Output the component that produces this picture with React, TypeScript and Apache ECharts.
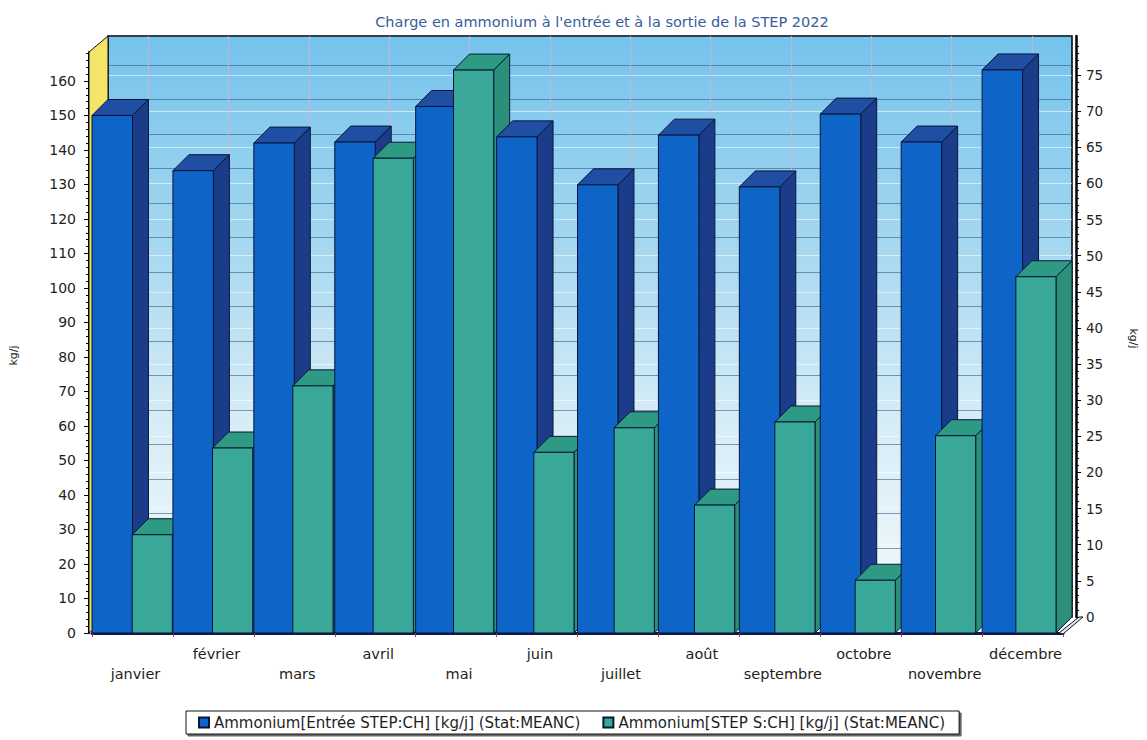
import React, { useEffect, useRef } from "react";
import * as echarts from "echarts";

// Monthly ammonium load, inlet (left axis) and outlet (right axis), kg/j
const months = [
  "janvier", "février", "mars", "avril", "mai", "juin",
  "juillet", "août", "septembre", "octobre", "novembre", "décembre",
];
const entreeValues = [150, 134, 142, 142.3, 152.6, 143.8, 129.9, 144.3, 129.3, 150.4, 142.3, 163.2];
const sortieValues = [13.6, 25.6, 34.2, 65.7, 77.9, 25.0, 28.4, 17.7, 29.2, 7.3, 27.3, 49.3];

const leftTicks = [0, 10, 20, 30, 40, 50, 60, 70, 80, 90, 100, 110, 120, 130, 140, 150, 160];
const rightTicks = [0, 5, 10, 15, 20, 25, 30, 35, 40, 45, 50, 55, 60, 65, 70, 75];
const LEFT_MAX = 168.4;
const RIGHT_MAX = 80.4;

const chartTitle = "Charge en ammonium à l'entrée et à la sortie de la STEP 2022";
const seriesNames = [
  "Ammonium[Entrée STEP:CH] [kg/j] (Stat:MEANC)",
  "Ammonium[STEP S:CH] [kg/j] (Stat:MEANC)",
];
const axisUnit = "kg/j";

// Pseudo-3D box: the front plane carries the left axis, the back wall the right axis
const WIDTH = 1147;
const HEIGHT = 740;
const DEPTH_X = 16;
const DEPTH_Y = 16;
const FRONT = { left: 92, right: 1063, top: 52, bottom: 633 };
const BACK = {
  left: FRONT.left + DEPTH_X,
  right: FRONT.right + DEPTH_X,
  top: FRONT.top - DEPTH_Y,
  bottom: FRONT.bottom - DEPTH_Y,
};

const FONT = "'DejaVu Sans', 'Liberation Sans', sans-serif";
const TEXT = "#1e1e1e";
const EDGE = "#07173a";

const blueFaces = { front: "#0f64c8", top: "#1f4ea3", side: "#1b3c88" };
const greenFaces = { front: "#39a898", top: "#2e9a84", side: "#2b8f79" };

type Faces = { front: string; top: string; side: string };

// One bar as a prism: side face, top face, then front face
function prism(x0: number, x1: number, yTop: number, yBase: number, c: Faces, z2: number) {
  const line = { stroke: EDGE, lineWidth: 1 };
  return [
    {
      type: "polygon",
      z2,
      shape: {
        points: [
          [x1, yBase],
          [x1 + DEPTH_X, yBase - DEPTH_Y],
          [x1 + DEPTH_X, yTop - DEPTH_Y],
          [x1, yTop],
        ],
      },
      style: { fill: c.side, ...line },
    },
    {
      type: "polygon",
      z2,
      shape: {
        points: [
          [x0, yTop],
          [x1, yTop],
          [x1 + DEPTH_X, yTop - DEPTH_Y],
          [x0 + DEPTH_X, yTop - DEPTH_Y],
        ],
      },
      style: { fill: c.top, ...line },
    },
    {
      type: "rect",
      z2,
      shape: { x: x0, y: yTop, width: x1 - x0, height: yBase - yTop },
      style: { fill: c.front, ...line },
    },
  ];
}

function buildOption(): echarts.EChartsOption {
  const entreeData = entreeValues.map((v, i) => [i, v]);
  const sortieData = sortieValues.map((v, i) => [i, v]);

  return {
    animation: false,
    backgroundColor: "#ffffff",
    textStyle: { fontFamily: FONT },
    title: {
      text: chartTitle,
      left: 597,
      top: 9,
      textAlign: "center",
      textStyle: { fontFamily: FONT, fontSize: 14.5, fontWeight: "normal", color: "#3a5c9c" },
    },
    legend: {
      data: seriesNames,
      left: 186,
      top: 711,
      icon: "rect",
      itemWidth: 10,
      itemHeight: 10,
      itemGap: 22,
      padding: [4, 14, 4, 12],
      borderColor: "#111",
      borderWidth: 1,
      backgroundColor: "#fff",
      shadowColor: "rgba(0,0,0,0.6)",
      shadowOffsetX: 2,
      shadowOffsetY: 2,
      shadowBlur: 0,
      textStyle: { fontFamily: FONT, fontSize: 15, color: TEXT },
    },
    grid: [
      {
        left: FRONT.left,
        top: FRONT.top,
        width: FRONT.right - FRONT.left,
        height: FRONT.bottom - FRONT.top,
      },
      {
        left: BACK.left,
        top: BACK.top,
        width: BACK.right - BACK.left,
        height: BACK.bottom - BACK.top,
        show: true,
        borderColor: "#000",
        borderWidth: 1.5,
        backgroundColor: new echarts.graphic.LinearGradient(0, 0, 0, 1, [
          { offset: 0, color: "#74c3ec" },
          { offset: 0.35, color: "#a4d7f0" },
          { offset: 0.65, color: "#d5ecf6" },
          { offset: 1, color: "#f4f9fc" },
        ]),
      },
    ],
    xAxis: [
      {
        type: "category",
        gridIndex: 0,
        data: months,
        axisLine: { lineStyle: { color: "#0c1d4a", width: 3 } },
        axisTick: { show: true, length: 4, interval: 0, lineStyle: { color: "#b03a3a" } },
        axisLabel: {
          interval: 0,
          margin: 13,
          formatter: (v: string, idx: number) => (idx % 2 === 0 ? `{lo|${v}}` : `{hi|${v}}`),
          rich: {
            lo: { fontFamily: FONT, fontSize: 14.5, color: TEXT, padding: [20, 0, 0, 6] },
            hi: { fontFamily: FONT, fontSize: 14.5, color: TEXT, padding: [0, 0, 0, 6] },
          },
        },
        splitLine: { show: false },
      },
      {
        type: "category",
        gridIndex: 1,
        data: months,
        axisLine: { show: false },
        axisTick: { show: false },
        axisLabel: { show: false },
        splitLine: {
          show: true,
          alignWithLabel: true,
          interval: 0,
          lineStyle: { color: "rgba(236,170,190,0.75)", width: 1 },
        } as any,
      },
    ],
    yAxis: [
      {
        type: "value",
        gridIndex: 0,
        position: "left",
        offset: 3,
        min: 0,
        max: LEFT_MAX,
        interval: 10,
        name: axisUnit,
        nameLocation: "middle",
        nameGap: 70,
        nameRotate: 90,
        nameTextStyle: { fontFamily: FONT, fontSize: 11, color: TEXT, padding: [0, 26, 0, 0] },
        axisLine: { show: true, lineStyle: { color: "#000", width: 2 } },
        axisTick: { show: true, length: 5, customValues: leftTicks, lineStyle: { color: "#000" } } as any,
        minorTick: { show: true, splitNumber: 5, length: 3, lineStyle: { color: "#000" } },
        axisLabel: {
          customValues: leftTicks,
          margin: 13,
          fontFamily: FONT,
          fontSize: 14,
          color: TEXT,
        } as any,
        splitLine: { show: false },
      },
      {
        type: "value",
        gridIndex: 1,
        position: "right",
        offset: 4,
        min: 0,
        max: RIGHT_MAX,
        interval: 5,
        name: axisUnit,
        nameLocation: "middle",
        nameGap: 52,
        nameRotate: -90,
        nameTextStyle: { fontFamily: FONT, fontSize: 11, color: TEXT, padding: [0, 0, 0, 24] },
        axisLine: { show: true, lineStyle: { color: "#000", width: 2.5 } },
        axisTick: { show: true, length: 5, customValues: rightTicks, lineStyle: { color: "#000" } } as any,
        minorTick: { show: true, splitNumber: 5, length: 3, lineStyle: { color: "#000" } },
        axisLabel: {
          customValues: rightTicks,
          margin: 10,
          fontFamily: FONT,
          fontSize: 13.5,
          color: TEXT,
        } as any,
        splitLine: { show: true, lineStyle: { color: "rgba(255,255,255,0.55)", width: 1 } },
      },
      {
        // Left-axis gridlines painted on the back wall
        type: "value",
        gridIndex: 1,
        position: "left",
        min: 0,
        max: LEFT_MAX,
        interval: 10,
        axisLine: { show: false },
        axisTick: { show: false },
        axisLabel: { show: false },
        splitLine: { show: true, lineStyle: { color: "rgba(40,80,120,0.55)", width: 1 } },
      },
    ],
    graphic: [
      {
        // yellow side wall
        type: "polygon",
        z: 1,
        shape: {
          points: [
            [FRONT.left - 3, FRONT.bottom],
            [FRONT.left - 3, FRONT.top],
            [BACK.left, BACK.top],
            [BACK.left, BACK.bottom],
          ],
        },
        style: { fill: "#f4e468", stroke: "#111", lineWidth: 1 },
      },
      {
        // floor edge on the right
        type: "polygon",
        z: 1,
        shape: {
          points: [
            [FRONT.right, FRONT.bottom + 1],
            [BACK.right + 4, BACK.bottom],
            [BACK.right, BACK.bottom],
            [FRONT.right - 4, FRONT.bottom],
          ],
        },
        style: { fill: "#dfeaf2", stroke: "#111", lineWidth: 1 },
      },
    ],
    series: [
      {
        type: "custom",
        name: seriesNames[0],
        xAxisIndex: 0,
        yAxisIndex: 0,
        data: entreeData,
        encode: { x: 0, y: 1 },
        silent: true,
        itemStyle: { color: blueFaces.front, borderColor: EDGE, borderWidth: 1 },
        renderItem: (_params: any, api: any) => {
          const i = api.value(0);
          const top = api.coord([i, api.value(1)]);
          const base = api.coord([i, 0]);
          const band = api.size([1, 0])[0];
          const cx = base[0];
          return { type: "group", children: prism(cx - band / 2, cx, top[1], base[1], blueFaces, 2 * i) };
        },
      },
      {
        type: "custom",
        name: seriesNames[1],
        xAxisIndex: 1,
        yAxisIndex: 1,
        data: sortieData,
        encode: { x: 0, y: 1 },
        silent: true,
        itemStyle: { color: greenFaces.front, borderColor: EDGE, borderWidth: 1 },
        renderItem: (_params: any, api: any) => {
          const i = api.value(0);
          const top = api.coord([i, api.value(1)]);
          const base = api.coord([i, 0]);
          const band = api.size([1, 0])[0];
          // back-plane coordinates brought forward to the front plane
          const cx = base[0] - DEPTH_X;
          return {
            type: "group",
            children: prism(cx, cx + band / 2, top[1] + DEPTH_Y, base[1] + DEPTH_Y, greenFaces, 2 * i + 1),
          };
        },
      },
    ] as any,
  };
}

export default function App() {
  const ref = useRef<HTMLDivElement>(null);

  useEffect(() => {
    if (!ref.current) return;
    const chart = echarts.init(ref.current, undefined, { renderer: "svg" });
    chart.setOption(buildOption());
    return () => chart.dispose();
  }, []);

  return (
    <div
      ref={ref}
      style={{ position: "absolute", left: 0, top: 0, width: WIDTH, height: HEIGHT, background: "#fff" }}
    />
  );
}
